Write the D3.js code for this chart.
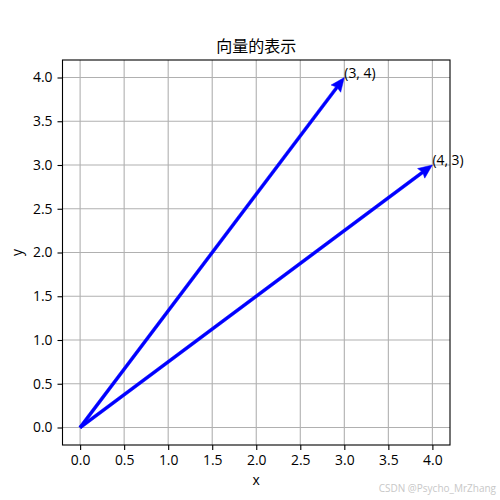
<!DOCTYPE html>
<html>
<head>
<meta charset="utf-8">
<script src="https://cdn.jsdelivr.net/npm/d3@7"></script>
<style>
  body { margin: 0; background: #fff; }
  svg text { font-family: "Open Sans", "Noto Sans CJK JP", sans-serif; fill: #000; }
</style>
</head>
<body>
<svg id="chart" width="500" height="500"></svg>
<script>
/** Chart data **/
var vectorNames = ["(3, 4)", "(4, 3)"];
var vectorX = [3, 4];
var vectorY = [4, 3];
var xTicks = [0, 0.5, 1, 1.5, 2, 2.5, 3, 3.5, 4];
var yTicks = [0, 0.5, 1, 1.5, 2, 2.5, 3, 3.5, 4];
var xDomain = [-0.2, 4.2];
var yDomain = [-0.2, 4.2];

var chartTitle = "向量的表示";
var xLabel = "x";
var yLabel = "y";
var watermark = "CSDN @Psycho_MrZhang";

var ax_left = 62.5;
var ax_right = 450;
var ax_top = 60;
var ax_bottom = 445;
var grid_color = '#b0b0b0';
var arrow_color = '#0000ff';
var latin_font = '"Open Sans", "Noto Sans CJK JP", sans-serif';

var svg = d3.select("#chart");

var xScale = d3.scaleLinear().domain(xDomain).range([ax_left, ax_right]);
var yScale = d3.scaleLinear().domain(yDomain).range([ax_bottom, ax_top]);

// Grid lines
var grid = svg.append("g");
grid.selectAll("line.gx")
    .data(xTicks)
    .enter().append("line")
    .attr("x1", function(d) { return xScale(d); })
    .attr("x2", function(d) { return xScale(d); })
    .attr("y1", ax_top)
    .attr("y2", ax_bottom)
    .attr("stroke", grid_color)
    .attr("stroke-width", 1.1);
grid.selectAll("line.gy")
    .data(yTicks)
    .enter().append("line")
    .attr("y1", function(d) { return yScale(d); })
    .attr("y2", function(d) { return yScale(d); })
    .attr("x1", ax_left)
    .attr("x2", ax_right)
    .attr("stroke", grid_color)
    .attr("stroke-width", 1.1);

// Axes
var xAxis = d3.axisBottom(xScale)
    .tickValues(xTicks)
    .tickFormat(d3.format(".1f"))
    .tickSizeInner(5)
    .tickSizeOuter(0)
    .tickPadding(5);
var yAxis = d3.axisLeft(yScale)
    .tickValues(yTicks)
    .tickFormat(d3.format(".1f"))
    .tickSizeInner(5)
    .tickSizeOuter(0)
    .tickPadding(5);

var gx = svg.append("g")
    .attr("transform", "translate(0," + ax_bottom + ")")
    .call(xAxis);
var gy = svg.append("g")
    .attr("transform", "translate(" + ax_left + ",0)")
    .call(yAxis);

[gx, gy].forEach(function(g) {
    g.select(".domain").remove();
    g.selectAll("line").attr("stroke", "#000").attr("stroke-width", 1.1);
    g.selectAll("text")
        .attr("font-size", 13.9)
        .attr("font-family", latin_font)
        .attr("fill", "#000");
});

// Vectors (quiver style arrows)
var shaft_w = 3;
var head_len = 14;
var head_half = 6;
var arrows = svg.append("g");

vectorX.forEach(function(vx, i) {
    var x0 = xScale(0), y0 = yScale(0);
    var x1 = xScale(vx), y1 = yScale(vectorY[i]);
    var dx = x1 - x0, dy = y1 - y0;
    var len = Math.sqrt(dx * dx + dy * dy);
    var ux = dx / len, uy = dy / len;
    var px = -uy, py = ux;
    var bx = x1 - ux * head_len, by = y1 - uy * head_len;
    var nx = x1 - ux * head_len * 0.9, ny = y1 - uy * head_len * 0.9;
    var h = shaft_w / 2;

    var pts = [
        [x0 + px * h, y0 + py * h],
        [nx + px * h, ny + py * h],
        [bx + px * head_half, by + py * head_half],
        [x1, y1],
        [bx - px * head_half, by - py * head_half],
        [nx - px * h, ny - py * h],
        [x0 - px * h, y0 - py * h]
    ];
    arrows.append("polygon")
        .attr("points", pts.map(function(p) { return p.join(","); }).join(" "))
        .attr("fill", arrow_color)
        .attr("stroke", arrow_color)
        .attr("stroke-width", 0.5);

    svg.append("text")
        .attr("x", x1)
        .attr("y", y1)
        .attr("font-size", 13.9)
        .attr("font-family", latin_font)
        .text(vectorNames[i]);
});

// Frame
svg.append("rect")
    .attr("x", ax_left)
    .attr("y", ax_top)
    .attr("width", ax_right - ax_left)
    .attr("height", ax_bottom - ax_top)
    .attr("fill", "none")
    .attr("stroke", "#000")
    .attr("stroke-width", 1.1);

// Title and labels
svg.append("text")
    .attr("x", (ax_left + ax_right) / 2)
    .attr("y", 52)
    .attr("text-anchor", "middle")
    .attr("font-size", 16)
    .attr("font-family", '"Noto Sans CJK JP", sans-serif')
    .text(chartTitle);

svg.append("text")
    .attr("x", (ax_left + ax_right) / 2)
    .attr("y", 485)
    .attr("text-anchor", "middle")
    .attr("font-size", 13.9)
    .text(xLabel);

svg.append("text")
    .attr("transform", "translate(22," + ((ax_top + ax_bottom) / 2) + ") rotate(-90)")
    .attr("text-anchor", "middle")
    .attr("font-size", 13.9)
    .text(yLabel);

svg.append("text")
    .attr("x", 496)
    .attr("y", 492)
    .attr("text-anchor", "end")
    .attr("font-size", 10)
    .attr("font-family", '"Liberation Sans", Arial, sans-serif')
    .style("fill", "#c8c8c8")
    .text(watermark);
</script>
</body>
</html>
